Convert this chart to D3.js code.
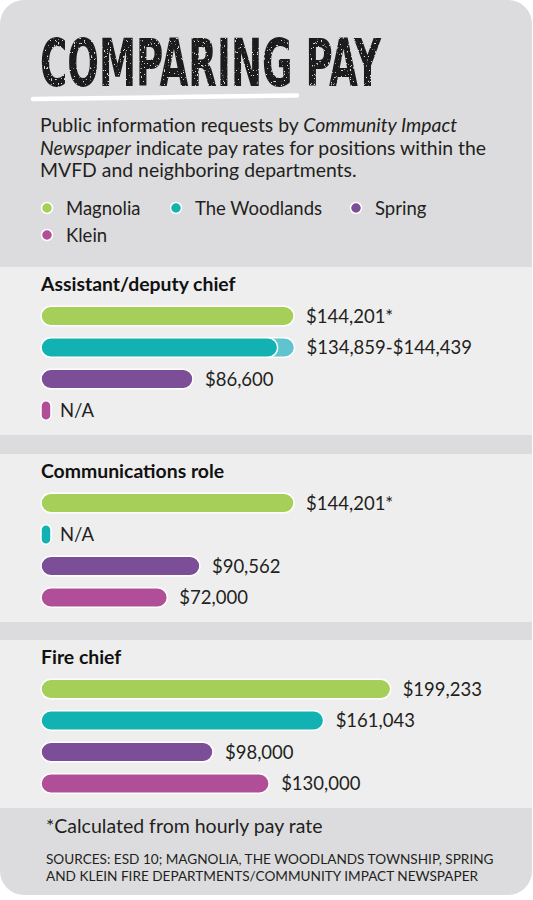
<!DOCTYPE html>
<html>
<head>
<meta charset="utf-8">
<script src="https://cdn.jsdelivr.net/npm/d3@7"></script>
<style>
  html, body { margin: 0; padding: 0; background: #ffffff; }
  svg { display: block; }
</style>
</head>
<body>
<svg id="chart" width="533" height="900"></svg>
<script>
// ---- data ----
const categories = ["Assistant/deputy chief", "Communications role", "Fire chief"];
const departments = ["Magnolia", "The Woodlands", "Spring", "Klein"];
const colors = ["#a5cf58", "#12b1b2", "#7c4e97", "#b04f97"];
const rangeColor = "#5fc4cd";
// values per category (null = N/A)
const magnolia = [144201, 144201, 199233];
const woodlandsLow = [134859, null, 161043];
const woodlandsHigh = [144439, null, null];
const spring = [86600, 90562, 98000];
const klein = [null, 72000, 130000];
// hourly-derived values marked with *
const magnoliaHourly = [true, true, false];
const footnote = "*Calculated from hourly pay rate";
const sources = ["SOURCES: ESD 10; MAGNOLIA, THE WOODLANDS TOWNSHIP, SPRING",
                 "AND KLEIN FIRE DEPARTMENTS/COMMUNITY IMPACT NEWSPAPER"];

const svg = d3.select("#chart");
const FONT = "Lato, 'Noto Sans', sans-serif";
const TXT = "#231f20";

const defs = svg.append("defs");
defs.append("clipPath").attr("id", "card")
  .append("rect").attr("x", 0).attr("y", 0).attr("width", 532).attr("height", 895).attr("rx", 24);

// grunge texture for the title
const f = defs.append("filter").attr("id", "grunge").attr("x", "-5%").attr("y", "-10%").attr("width", "110%").attr("height", "120%");
f.append("feTurbulence").attr("type", "fractalNoise").attr("baseFrequency", 0.7).attr("numOctaves", 2).attr("seed", 7).attr("result", "noise");
f.append("feColorMatrix").attr("in", "noise").attr("type", "matrix")
  .attr("values", "0 0 0 0 0  0 0 0 0 0  0 0 0 0 0  0 0 0 -14 10.3").attr("result", "mask");
f.append("feComposite").attr("in", "SourceGraphic").attr("in2", "mask").attr("operator", "in");

const g = svg.append("g").attr("clip-path", "url(#card)");
g.append("rect").attr("x", 0).attr("y", 0).attr("width", 533).attr("height", 900).attr("fill", "#dcdcde");

// title: sized to its width, then stretched vertically to the tall condensed look
const titleG = g.append("g");
const title = titleG.append("text")
  .attr("x", 0).attr("y", 0)
  .attr("font-family", "'DejaVu Sans Condensed', 'Liberation Sans Narrow', sans-serif")
  .attr("font-weight", 700)
  .attr("font-size", 40)
  .attr("fill", "#1a1a1a")
  .text("COMPARING PAY");
const natW = title.node().getComputedTextLength();
const fs = 40 * 341 / natW;
title.attr("font-size", fs);
const sy = 48 / (0.729 * fs);
titleG.attr("transform", `translate(40,86) scale(1,${sy})`).attr("filter", "url(#grunge)");

// underline brush stroke
g.append("path")
  .attr("d", d3.line().curve(d3.curveBasis)([[33, 99], [150, 97.5], [297, 95.5]]))
  .attr("fill", "none").attr("stroke", "#ffffff").attr("stroke-width", 4.5).attr("stroke-linecap", "round");

// description
const descLines = [
  [["Public information requests by ", false], ["Community Impact", true]],
  [["Newspaper", true], [" indicate pay rates for positions within the", false]],
  [["MVFD and neighboring departments.", false]]
];
descLines.forEach((parts, i) => {
  const t = g.append("text").attr("x", 40).attr("y", 132 + i * 22.5)
    .attr("font-family", FONT).attr("font-size", 19.4).attr("fill", TXT);
  parts.forEach(([s, it]) => t.append("tspan").attr("font-style", it ? "italic" : "normal").text(s));
});

// legend
const legendPos = [[47, 208], [176, 208], [356, 208], [47, 235]];
departments.forEach((d, i) => {
  const [lx, ly] = legendPos[i];
  g.append("circle").attr("cx", lx).attr("cy", ly).attr("r", 5.5)
    .attr("fill", colors[i]).attr("stroke", "#ffffff").attr("stroke-width", 1.5);
  g.append("text").attr("x", lx + 19).attr("y", ly + 6.5)
    .attr("font-family", FONT).attr("font-size", 18.5).attr("fill", TXT).text(d);
});

// scale
const x = d3.scaleLinear().domain([0, 200000]).range([41, 392]);
const fmt = d3.format("$,");
const sectionTops = [267, 454, 640];
const panelH = 168;
const barH = 19.5;
const naW = 10;

categories.forEach((cat, ci) => {
  const y0 = sectionTops[ci];
  g.append("rect").attr("x", 0).attr("y", y0).attr("width", 533).attr("height", panelH).attr("fill", "#eeeeef");
  g.append("text").attr("x", 41).attr("y", y0 + 24)
    .attr("font-family", FONT).attr("font-weight", 700).attr("font-size", 19.4).attr("fill", "#111").text(cat);

  const rows = [
    { v: magnolia[ci], hi: null, label: magnolia[ci] == null ? "N/A" : fmt(magnolia[ci]) + (magnoliaHourly[ci] ? "*" : "") },
    { v: woodlandsLow[ci], hi: woodlandsHigh[ci],
      label: woodlandsLow[ci] == null ? "N/A" : (woodlandsHigh[ci] ? fmt(woodlandsLow[ci]) + "-" + fmt(woodlandsHigh[ci]) : fmt(woodlandsLow[ci])) },
    { v: spring[ci], hi: null, label: spring[ci] == null ? "N/A" : fmt(spring[ci]) },
    { v: klein[ci], hi: null, label: klein[ci] == null ? "N/A" : fmt(klein[ci]) }
  ];
  rows.forEach((r, i) => {
    const cy = y0 + 49 + i * 31.5;
    let end;
    if (r.hi != null) {
      g.append("rect").attr("x", x(0)).attr("y", cy - barH / 2)
        .attr("width", x(r.hi) - x(0)).attr("height", barH).attr("rx", barH / 2)
        .attr("fill", rangeColor).attr("stroke", "#ffffff").attr("stroke-width", 1.5);
      end = x(r.hi);
    }
    const w = r.v == null ? naW : x(r.v) - x(0);
    g.append("rect").attr("x", x(0)).attr("y", cy - barH / 2)
      .attr("width", w).attr("height", barH).attr("rx", r.v == null ? naW / 2 : barH / 2)
      .attr("fill", colors[i]).attr("stroke", "#ffffff").attr("stroke-width", 1.5);
    if (end == null) end = x(0) + w;
    g.append("text").attr("x", end + (r.v == null ? 9 : 12)).attr("y", cy + 6.5)
      .attr("font-family", FONT).attr("font-size", 18.5).attr("fill", TXT).text(r.label);
  });
});

// footer
g.append("text").attr("x", 46).attr("y", 833)
  .attr("font-family", FONT).attr("font-size", 19.5).attr("fill", TXT).text(footnote);
sources.forEach((s, i) => {
  g.append("text").attr("x", 46).attr("y", 864 + i * 17)
    .attr("font-family", FONT).attr("font-size", 13.6).attr("fill", TXT).text(s);
});
</script>
</body>
</html>
